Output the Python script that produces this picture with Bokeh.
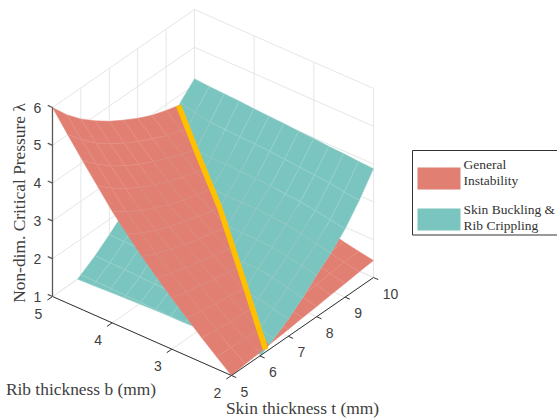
from bokeh.plotting import figure
from bokeh.models import ColumnDataSource
from bokeh.core.properties import value
from bokeh.embed import file_html
from bokeh.resources import INLINE
import numpy as np

# ---- data ----
t_grid = [5, 5.5, 6, 6.5, 7, 7.5, 8, 8.5, 9, 9.5, 10]
b_grid = [2, 2.25, 2.5, 2.75, 3, 3.25, 3.5, 3.75, 4, 4.25, 4.5, 4.75, 5]
z_general = [
    [1.00,1.05,1.09,1.14,1.18,1.23,1.27,1.32,1.36,1.41,1.45],
    [1.32,1.30,1.29,1.28,1.30,1.33,1.37,1.41,1.45,1.49,1.52],
    [1.65,1.60,1.55,1.52,1.49,1.48,1.49,1.51,1.54,1.57,1.60],
    [2.00,1.93,1.86,1.80,1.72,1.69,1.67,1.66,1.66,1.68,1.70],
    [2.35,2.25,2.16,2.08,2.00,1.90,1.85,1.83,1.82,1.81,1.80],
    [2.72,2.58,2.46,2.36,2.27,2.17,2.09,2.04,2.00,1.97,1.94],
    [3.10,2.92,2.77,2.64,2.53,2.43,2.33,2.28,2.21,2.15,2.10],
    [3.52,3.29,3.10,2.94,2.81,2.69,2.58,2.49,2.41,2.34,2.27],
    [3.95,3.68,3.45,3.26,3.09,2.95,2.83,2.73,2.62,2.53,2.45],
    [4.45,4.13,3.86,3.63,3.44,3.27,3.12,2.99,2.88,2.77,2.68],
    [4.95,4.59,4.28,4.03,3.81,3.62,3.45,3.30,3.15,3.05,2.95],
    [5.47,5.06,4.72,4.44,4.19,3.98,3.79,3.62,3.50,3.37,3.23],
    [6.00,5.55,5.18,4.87,4.60,4.37,4.16,3.98,3.85,3.74,3.58],
]
z_skin = [
    [.45,.65,.98,1.20,1.45,1.75,2.10,2.42,2.80,3.30,3.88],
    [.45,.66,.96,1.28,1.55,1.85,2.18,2.50,2.87,3.35,3.90],
    [.46,.68,.97,1.30,1.65,1.95,2.25,2.59,2.94,3.41,3.93],
    [.46,.69,.98,1.30,1.66,2.00,2.31,2.66,3.00,3.45,3.95],
    [.47,.70,.99,1.28,1.64,2.00,2.34,2.69,3.03,3.48,3.98],
    [.47,.71,1.00,1.25,1.63,2.00,2.35,2.72,3.07,3.52,4.00],
    [.48,.73,1.00,1.23,1.63,1.99,2.35,2.72,3.09,3.55,4.03],
    [.48,.74,1.01,1.24,1.62,1.97,2.34,2.72,3.10,3.57,4.05],
    [.48,.75,1.02,1.25,1.61,1.94,2.31,2.73,3.12,3.59,4.07],
    [.49,.76,1.03,1.26,1.59,1.92,2.29,2.69,3.12,3.61,4.10],
    [.49,.78,1.04,1.28,1.58,1.89,2.27,2.67,3.15,3.63,4.12],
    [.50,.79,1.05,1.29,1.59,1.91,2.28,2.70,3.20,3.70,4.14],
    [.50,.80,1.06,1.30,1.60,1.92,2.30,2.72,3.20,3.80,4.17],
]
cross_t = [9.44, 8.93, 8.25, 7.25, 6.20]
cross_b = [5.00, 4.41, 3.745, 2.89, 2.00]
cross_z = [3.75, 3.04, 2.54, 1.83, 1.07]
t_ticks = [5, 6, 7, 8, 9, 10]
b_ticks = [2, 3, 4, 5]
z_ticks = [1, 2, 3, 4, 5, 6]
legend_labels = [["General", "Instability"], ["Skin Buckling &", "Rib Crippling"]]

RED, TEAL, ORANGE = "#E07F72", "#7AC5BF", "#FFC000"
RED_MESH, TEAL_MESH = "#E48C80", "#9AD1CD"
GRID, AXIS, TICKTXT = "#E6E6E6", "#333333", "#404040"
SERIF, SANS = "Liberation Serif", "Liberation Sans"


def pr(t, b, z):
    """Projection of the MATLAB-style 3-D view on to the page."""
    return (231 + 28.4 * (t - 5) - 59.67 * (b - 2),
            375 - 19.6 * (t - 5) - 26.33 * (b - 2) - 37.8 * (z - 1))


def clip(poly, f):
    out = []
    for i, v in enumerate(poly):
        w = poly[(i + 1) % len(poly)]
        fv, fw = f(v), f(w)
        if fv >= 0:
            out.append(v)
        if (fv >= 0) != (fw >= 0):
            a = fv / (fv - fw)
            out.append(tuple(v[k] + a * (w[k] - v[k]) for k in range(4)))
    return out


p = figure(width=557, height=418, x_range=(0, 557), y_range=(418, 0),
           output_backend="svg", toolbar_location=None, min_border=0,
           outline_line_color=None, styles={"position": "absolute", "left": "0px", "top": "0px"})
p.axis.visible = False
p.xgrid.visible = False
p.ygrid.visible = False

# walls and floor
gx, gy = [], []
def seg(a, b):
    xa, ya = pr(*a); xb, yb = pr(*b)
    gx.append([xa, xb]); gy.append([ya, yb])
for z in z_ticks:
    seg((5, 5, z), (10, 5, z)); seg((10, 5, z), (10, 2, z))
for t in t_ticks:
    seg((t, 5, 6), (t, 5, 1)); seg((t, 5, 1), (t, 2, 1))
for b in b_ticks:
    seg((10, b, 6), (10, b, 1)); seg((10, b, 1), (5, b, 1))
p.multi_line(gx, gy, line_color=GRID, line_width=1)

# surfaces, painted from the far corner to the near one
xs, ys, fills, lines = [], [], [], []
def add(poly, idx, fill, mesh):
    poly = clip(poly, lambda v: v[idx] - 1)
    if len(poly) < 3:
        return
    q = [pr(v[0], v[1], v[idx]) for v in poly]
    xs.append([c[0] for c in q]); ys.append([c[1] for c in q])
    fills.append(fill); lines.append(mesh)
for i in range(len(b_grid) - 2, -1, -1):
    for j in range(len(t_grid) - 2, -1, -1):
        cell = [(t_grid[jj], b_grid[ii], z_general[ii][jj], z_skin[ii][jj])
                for ii, jj in ((i, j), (i, j + 1), (i + 1, j + 1), (i + 1, j))]
        above = clip(cell, lambda v: v[2] - v[3])
        below = clip(cell, lambda v: v[3] - v[2])
        if len(above) >= 3:
            add(above, 3, TEAL, TEAL_MESH); add(above, 2, RED, RED_MESH)
        if len(below) >= 3:
            add(below, 2, RED, RED_MESH); add(below, 3, TEAL, TEAL_MESH)
p.patches("xs", "ys", source=ColumnDataSource(dict(xs=xs, ys=ys, f=fills, l=lines)),
          fill_color="f", line_color="l", line_width=0.5)

# crossing line
cq = [pr(*v) for v in zip(cross_t, cross_b, cross_z)]
p.line([c[0] for c in cq], [c[1] for c in cq], line_color=ORANGE, line_width=5.5, line_cap="butt")

# axes
ax, ay = [], []
gx, gy = ax, ay
seg((5, 5, 1), (5, 2, 1)); seg((5, 2, 1), (10, 2, 1))
for b in b_ticks:
    seg((5, b, 1), (4.82, b, 1))
for t in t_ticks:
    seg((t, 2, 1), (t, 1.92, 1))
p.multi_line(ax, ay, line_color=AXIS, line_width=1)
ax, ay = [], []
gx, gy = ax, ay
seg((5, 5, 1), (5, 5, 6))
for z in z_ticks:
    seg((5, 5, z), (5, 5.08, z))
p.multi_line(ax, ay, line_color="#5A5A5A", line_width=1.3)

def texts(tx, ty, ss, size, color, font, align="center", angle=0.0):
    p.text(tx, ty, text=ss, text_font=value(font), text_font_size=size, text_color=color,
           text_align=align, text_baseline="middle", angle=angle)

q = [pr(5, 5, z) for z in z_ticks]
texts([c[0] - 15 for c in q], [c[1] for c in q], [str(z) for z in z_ticks], "14px", TICKTXT, SANS)
q = [pr(5, b, 1) for b in b_ticks]
texts([c[0] - 14 for c in q], [c[1] + 17 for c in q], [str(b) for b in b_ticks], "14px", TICKTXT, SANS)
q = [pr(t, 2, 1) for t in t_ticks]
texts([c[0] + 13 + (4 if t == 10 else 0) for c, t in zip(q, t_ticks)], [c[1] + 16 for c in q],
      [str(t) for t in t_ticks], "14px", TICKTXT, SANS)

texts([80.5], [388], ["Rib thickness b (mm)"], "17.4px", "#404040", SERIF)
texts([302], [407], ["Skin thickness t (mm)"], "17.4px", "#404040", SERIF)
texts([18], [202.5], ["Non-dim. Critical Pressure λ"], "17.4px", "#404040", SERIF, angle=np.pi / 2)

# legend (its box runs off the right edge of the picture)
p.quad(left=[412], right=[560], top=[150], bottom=[234.5], fill_color="white", line_color="#333333", line_width=1)
p.quad(left=[417, 417], right=[460, 460], top=[167, 208], bottom=[189, 230],
       fill_color=[RED, TEAL], line_color=None)
for (l1, l2), y in zip(legend_labels, [164, 209]):
    texts([463, 463], [y, y + 15.5], [l1, l2], "13.5px", "#333333", SERIF, align="left")

open("out.html", "w").write(file_html(p, INLINE))
